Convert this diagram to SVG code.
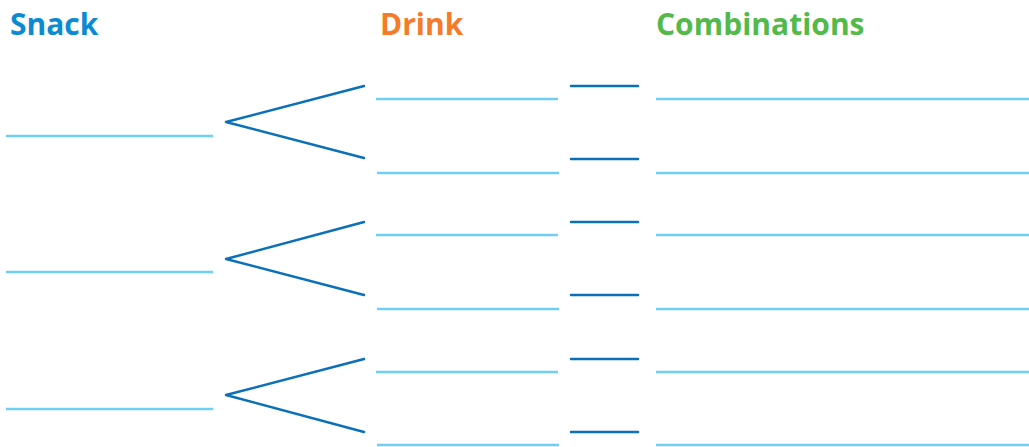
<svg xmlns="http://www.w3.org/2000/svg" width="1029" height="447" viewBox="0 0 1029 447">
<style>
.h{font-family:"Open Sans","Noto Sans","Liberation Sans",sans-serif;font-weight:bold;font-size:30px}
.blank{stroke:#6dcff6;stroke-width:2.5;fill:none}
.br{stroke:#0a70b9;stroke-width:2.5;fill:none;stroke-linecap:round;stroke-linejoin:round}
.dash{stroke:#0a70b9;stroke-width:2.5;fill:none;stroke-linecap:round}
</style>
<rect width="1029" height="447" fill="#fff"/>
<g id="headings">
<text class="h" x="10" y="35" fill="#0c8bd2">Snack</text>
<text class="h" x="380" y="35" fill="#f47b2a">Drink</text>
<text class="h" x="656" y="35" fill="#52b94b">Combinations</text>
</g>
<g id="snack1"><line class="blank" x1="6" y1="136" x2="213" y2="136"/></g>
<g id="snack2"><line class="blank" x1="6" y1="272" x2="213" y2="272"/></g>
<g id="snack3"><line class="blank" x1="6" y1="409" x2="213" y2="409"/></g>
<g id="connectors">
<polyline class="br" points="364,86 226,122 364,158"/>
<polyline class="br" points="364,222 226,259 364,295"/>
<polyline class="br" points="364,359 226,395 364,432"/>
</g>
<g id="drink1"><line class="blank" x1="376" y1="99" x2="558" y2="99"/></g>
<g id="drink2"><line class="blank" x1="377" y1="173" x2="559" y2="173"/></g>
<g id="drink3"><line class="blank" x1="376" y1="235" x2="558" y2="235"/></g>
<g id="drink4"><line class="blank" x1="377" y1="309" x2="559" y2="309"/></g>
<g id="drink5"><line class="blank" x1="376" y1="372" x2="558" y2="372"/></g>
<g id="drink6"><line class="blank" x1="377" y1="445" x2="559" y2="445"/></g>
<g id="dashes">
<line class="dash" x1="571" y1="86" x2="638" y2="86"/>
<line class="dash" x1="571" y1="159" x2="638" y2="159"/>
<line class="dash" x1="571" y1="222" x2="638" y2="222"/>
<line class="dash" x1="571" y1="295" x2="638" y2="295"/>
<line class="dash" x1="571" y1="359" x2="638" y2="359"/>
<line class="dash" x1="571" y1="432" x2="638" y2="432"/>
</g>
<g id="combo1"><line class="blank" x1="656" y1="99" x2="1029" y2="99"/></g>
<g id="combo2"><line class="blank" x1="656" y1="173" x2="1029" y2="173"/></g>
<g id="combo3"><line class="blank" x1="656" y1="235" x2="1029" y2="235"/></g>
<g id="combo4"><line class="blank" x1="656" y1="309" x2="1029" y2="309"/></g>
<g id="combo5"><line class="blank" x1="656" y1="372" x2="1029" y2="372"/></g>
<g id="combo6"><line class="blank" x1="656" y1="445" x2="1029" y2="445"/></g>
</svg>
